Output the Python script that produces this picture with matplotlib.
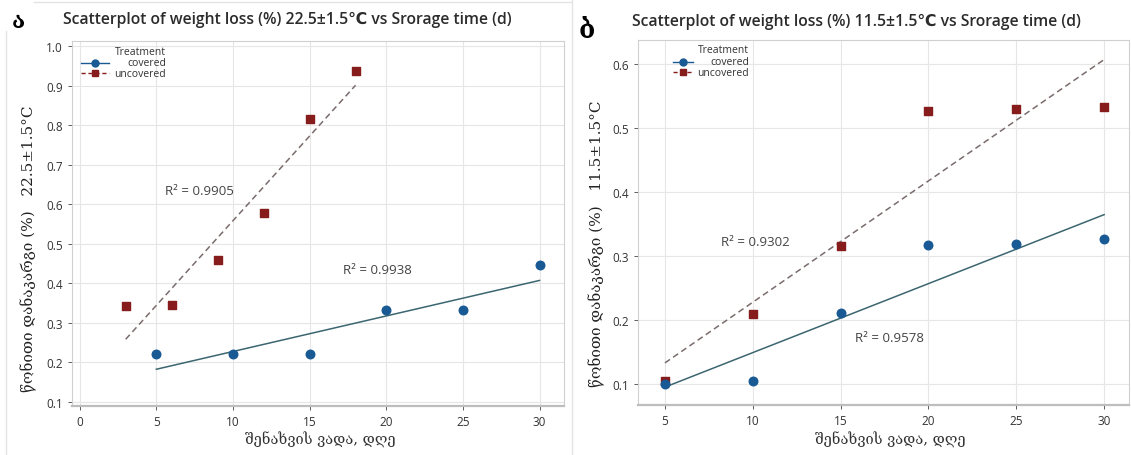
import numpy as np
import matplotlib
matplotlib.use("Agg")
import matplotlib.pyplot as plt
from matplotlib.lines import Line2D

# panel a: 22.5 C
days_cov_a = [5, 10, 15, 20, 25, 30]
loss_cov_a = [0.220, 0.220, 0.220, 0.332, 0.332, 0.445]
days_unc_a = [3, 6, 9, 12, 15, 18]
loss_unc_a = [0.343, 0.345, 0.460, 0.578, 0.815, 0.937]

# panel b: 11.5 C
days_cov_b = [5, 10, 15, 20, 25, 30]
loss_cov_b = [0.100, 0.105, 0.212, 0.318, 0.319, 0.327]
days_unc_b = [5, 10, 15, 20, 25, 30]
loss_unc_b = [0.105, 0.210, 0.315, 0.527, 0.530, 0.533]

r2_a = ["R² = 0.9905", "R² = 0.9938"]
r2_b = ["R² = 0.9302", "R² = 0.9578"]

titles = ["Scatterplot of weight loss (%) 22.5±1.5℃ vs Srorage time (d)",
          "Scatterplot of weight loss (%) 11.5±1.5℃ vs Srorage time (d)"]
ylabels = ["წონითი დანაკარგი (%)   22.5±1.5°C",
           "წონითი დანაკარგი (%)   11.5±1.5°C"]
xlabel = "შენახვის ვადა, დღე"
panel_letters = ["ა", "ბ"]
legend_title = "Treatment"
groups = ["covered", "uncovered"]

blue = "#1a5a94"
red = "#861c1c"
fit_blue = "#3b6670"
fit_red = "#7a6c6c"
sans = ["Open Sans", "DejaVu Sans"]
serif = ["DejaVu Serif"]

fig = plt.figure(figsize=(11.31, 4.56), dpi=100)
ax1 = fig.add_axes([0.0637, 0.107, 0.435, 0.801])
ax2 = fig.add_axes([0.564, 0.110, 0.434, 0.800])

# faint frames of the two screenshots
frame = "#e4e4e4"
fig.add_artist(Line2D([0.005, 0.005], [0.0, 0.93], color=frame, lw=1))
fig.add_artist(Line2D([0.03, 0.505], [0.993, 0.993], color=frame, lw=1))
fig.add_artist(Line2D([0.506, 0.506], [0.0, 1.0], color=frame, lw=1))


def draw(ax, xc, yc, xu, yu, fit_xc, fit_xu, leg):
    # regression lines
    pc = np.polyfit(xc, yc, 1)
    pu = np.polyfit(xu, yu, 1)
    xs = np.array(fit_xc)
    ax.plot(xs, np.polyval(pc, xs), color=fit_blue, lw=1.1, zorder=2)
    xs = np.array(fit_xu)
    ax.plot(xs, np.polyval(pu, xs), color=fit_red, lw=1.1, ls=(0, (4, 2.5)), zorder=2)
    ax.scatter(xu, yu, marker="s", s=40, color=red, zorder=3)
    ax.scatter(xc, yc, marker="o", s=38, color=blue, zorder=4)
    ax.grid(True, color="#e6e6e6", lw=0.8)
    ax.set_axisbelow(True)
    for s in ["top", "right", "left"]:
        ax.spines[s].set_color("#d0d0d0")
        ax.spines[s].set_linewidth(0.8)
    ax.spines["bottom"].set_color("#bdbdbd")
    ax.spines["bottom"].set_linewidth(1.6)
    ax.tick_params(labelsize=8.5, colors="#444444", length=3, width=0.6)
    for lab in ax.get_xticklabels() + ax.get_yticklabels():
        lab.set_family(sans)
        lab.set_color("#333333")
    # legend, text right aligned like minitab
    x0, x1, xr, ys = leg
    tr = ax.transAxes
    ax.text(xr, ys[0], legend_title, transform=tr, ha="right", va="center",
            fontsize=7.5, color="#333333", family=sans)
    ax.plot([x0, x1], [ys[1], ys[1]], transform=tr, color=blue, lw=1, clip_on=False)
    ax.plot([(x0 + x1) / 2], [ys[1]], transform=tr, marker="o", ms=5, color=blue, clip_on=False)
    ax.plot([x0, x1], [ys[2], ys[2]], transform=tr, color=red, lw=1, ls=(0, (3, 2)), clip_on=False)
    ax.plot([(x0 + x1) / 2], [ys[2]], transform=tr, marker="s", ms=5, color=red, clip_on=False)
    for g, y in zip(groups, ys[1:]):
        ax.text(xr, y, g, transform=tr, ha="right", va="center",
                fontsize=7.5, color="#333333", family=sans)


draw(ax1, days_cov_a, loss_cov_a, days_unc_a, loss_unc_a, [5, 30], [3, 18],
     (0.018, 0.075, 0.191, [0.970, 0.940, 0.912]))
ax1.set_xlim(-0.5, 31.6)
ax1.set_ylim(0.089, 1.013)
ax1.set_xticks([0, 5, 10, 15, 20, 25, 30])
ax1.set_yticks(np.arange(0.1, 1.01, 0.1))
ax1.set_yticklabels([f"{v:.1f}" for v in np.arange(0.1, 1.01, 0.1)], family=sans)
ax1.text(5.55, 0.625, r2_a[0], fontsize=9.5, color="#444444", family=sans)
ax1.text(17.2, 0.425, r2_a[1], fontsize=9.5, color="#444444", family=sans)

draw(ax2, days_cov_b, loss_cov_b, days_unc_b, loss_unc_b, [5, 30], [5, 30],
     (0.071, 0.112, 0.226, [0.973, 0.940, 0.912]))
ax2.set_xlim(3.46, 31.4)
ax2.set_ylim(0.068, 0.637)
ax2.set_xticks([5, 10, 15, 20, 25, 30])
ax2.set_yticks([0.1, 0.2, 0.3, 0.4, 0.5, 0.6])
ax2.set_yticklabels(["0.1", "0.2", "0.3", "0.4", "0.5", "0.6"], family=sans)
ax2.text(8.2, 0.318, r2_b[0], fontsize=9.5, color="#444444", family=sans)
ax2.text(15.8, 0.168, r2_b[1], fontsize=9.5, color="#444444", family=sans)

for t, yl, x_t, y_t, x_yl, y_yl, x_xl in [(titles[0], ylabels[0], 0.254, 0.956, 0.025, 0.454, 0.283),
                                          (titles[1], ylabels[1], 0.757, 0.952, 0.528, 0.465, 0.787)]:
    fig.text(x_t, y_t, t, ha="center", va="center", fontsize=11.3,
             fontweight="semibold", color="#2b2b2b", family=sans)
    fig.text(x_yl, y_yl, yl, rotation=90, ha="center", va="center",
             fontsize=11, color="#222222", family=serif)
    fig.text(x_xl, 0.035, xlabel, ha="center", va="center", fontsize=10.5,
             color="#333333", family=serif)

fig.text(0.010, 0.952, panel_letters[0], fontsize=16, fontweight="bold", family=serif, va="center")
fig.text(0.512, 0.933, panel_letters[1], fontsize=19, fontweight="bold", family=serif, va="center")

fig.savefig("out.png", dpi=100)
